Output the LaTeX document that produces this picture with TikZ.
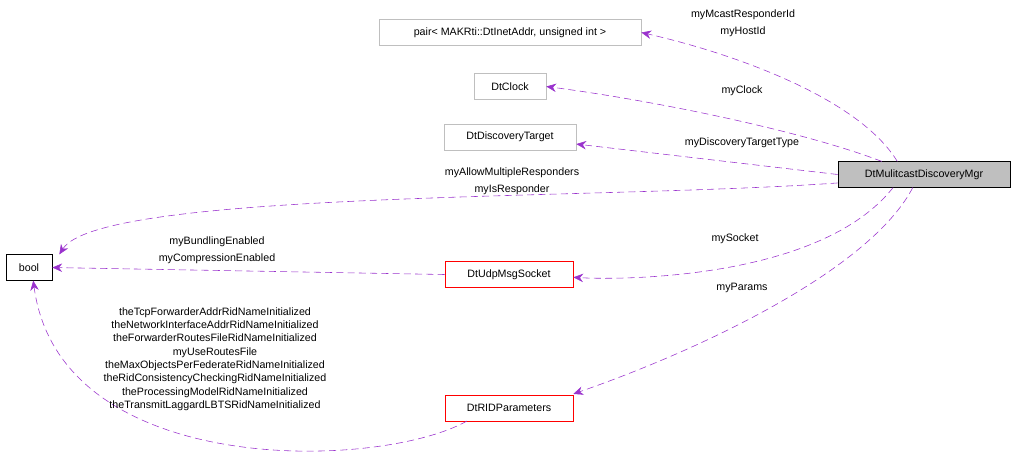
\documentclass[tikz,border=0pt]{standalone}
\usepackage{fontspec}
\setmainfont{Liberation Sans}
\usetikzlibrary{positioning,arrows.meta}
\definecolor{edgepurple}{HTML}{9A32CD}
\definecolor{boxgray}{HTML}{BFBFBF}
\tikzset{
  cls/.style={rectangle,inner sep=0pt,minimum height=0.64cm,font=\fontsize{7.6}{9}\selectfont},
  ext/.style={cls,draw=boxgray},
  rel/.style={draw=edgepurple,dashed,dash pattern=on 5pt off 3pt,-{Stealth[length=7pt,width=6pt]}},
  lbl/.style={font=\fontsize{7.6}{9.5}\selectfont,align=center}
}
\begin{document}
\begin{tikzpicture}[x=0.025cm,y=-0.025cm]
\useasboundingbox (0,0) rectangle (1016,470);
% classes
\node[ext,minimum width=6.55cm] (pair) at (510,32.5) {pair< MAKRti::DtInetAddr, unsigned int >};
\node[ext,minimum width=1.8cm] (clock) at (510,86.5) {DtClock};
\node[ext,minimum width=3.3cm] (target) at (510,137) {DtDiscoveryTarget};
\node[cls,draw=black,fill=boxgray,minimum width=4.3cm] (mgr) at (924,174.5) {DtMulitcastDiscoveryMgr};
\node[cls,draw=black,minimum width=1.15cm] (bool) at (29,267.5) {bool};
\node[cls,draw=red,minimum width=3.2cm] (socket) at (509,274.5) {DtUdpMsgSocket};
\node[cls,draw=red,minimum width=3.2cm] (rid) at (509,408) {DtRIDParameters};
% members
\draw[rel] ([xshift=-19pt]mgr.north) .. controls (860,100) and (740,55) .. (pair.east);
\draw[rel] ([xshift=-30pt]mgr.north) .. controls (800,130) and (650,100) .. (clock.east);
\draw[rel] (mgr.west) -- ([yshift=-5pt]target.east);
\draw[rel] ([yshift=-6pt]mgr.west) .. controls (600,200) and (100,190) .. ([xshift=5pt]bool.north east);
\draw[rel] ([xshift=-22pt]mgr.south) .. controls (820,280) and (620,280) .. ([yshift=-2pt]socket.east);
\draw[rel] ([xshift=-8pt]mgr.south) .. controls (870,270) and (700,350) .. ([yshift=10pt]socket.east |- rid.east);
\draw[rel] (socket.west) -- (bool.east);
\draw[rel] ([xshift=-30pt]rid.south) .. controls (380,470) and (60,480) .. ([xshift=3pt]bool.south);
% labels
\node[lbl,font=\fontsize{7.6}{12}\selectfont] (lpair) at (743,23) {myMcastResponderId\\myHostId};
\node[lbl] (lclock) at (742,91) {myClock};
\node[lbl] (ltarget) at (742,143) {myDiscoveryTargetType};
\node[lbl,font=\fontsize{7.6}{12}\selectfont] (lresp) at (512,181) {myAllowMultipleResponders\\myIsResponder};
\node[lbl] (lsock) at (735,239) {mySocket};
\node[lbl] (lparams) at (742,288) {myParams};
\node[lbl,font=\fontsize{7.6}{12}\selectfont] (lbund) at (217,250) {myBundlingEnabled\\myCompressionEnabled};
\node[lbl] (lrid) at (215,359) {theTcpForwarderAddrRidNameInitialized\\theNetworkInterfaceAddrRidNameInitialized\\theForwarderRoutesFileRidNameInitialized\\myUseRoutesFile\\theMaxObjectsPerFederateRidNameInitialized\\theRidConsistencyCheckingRidNameInitialized\\theProcessingModelRidNameInitialized\\theTransmitLaggardLBTSRidNameInitialized};
\end{tikzpicture}
\end{document}
